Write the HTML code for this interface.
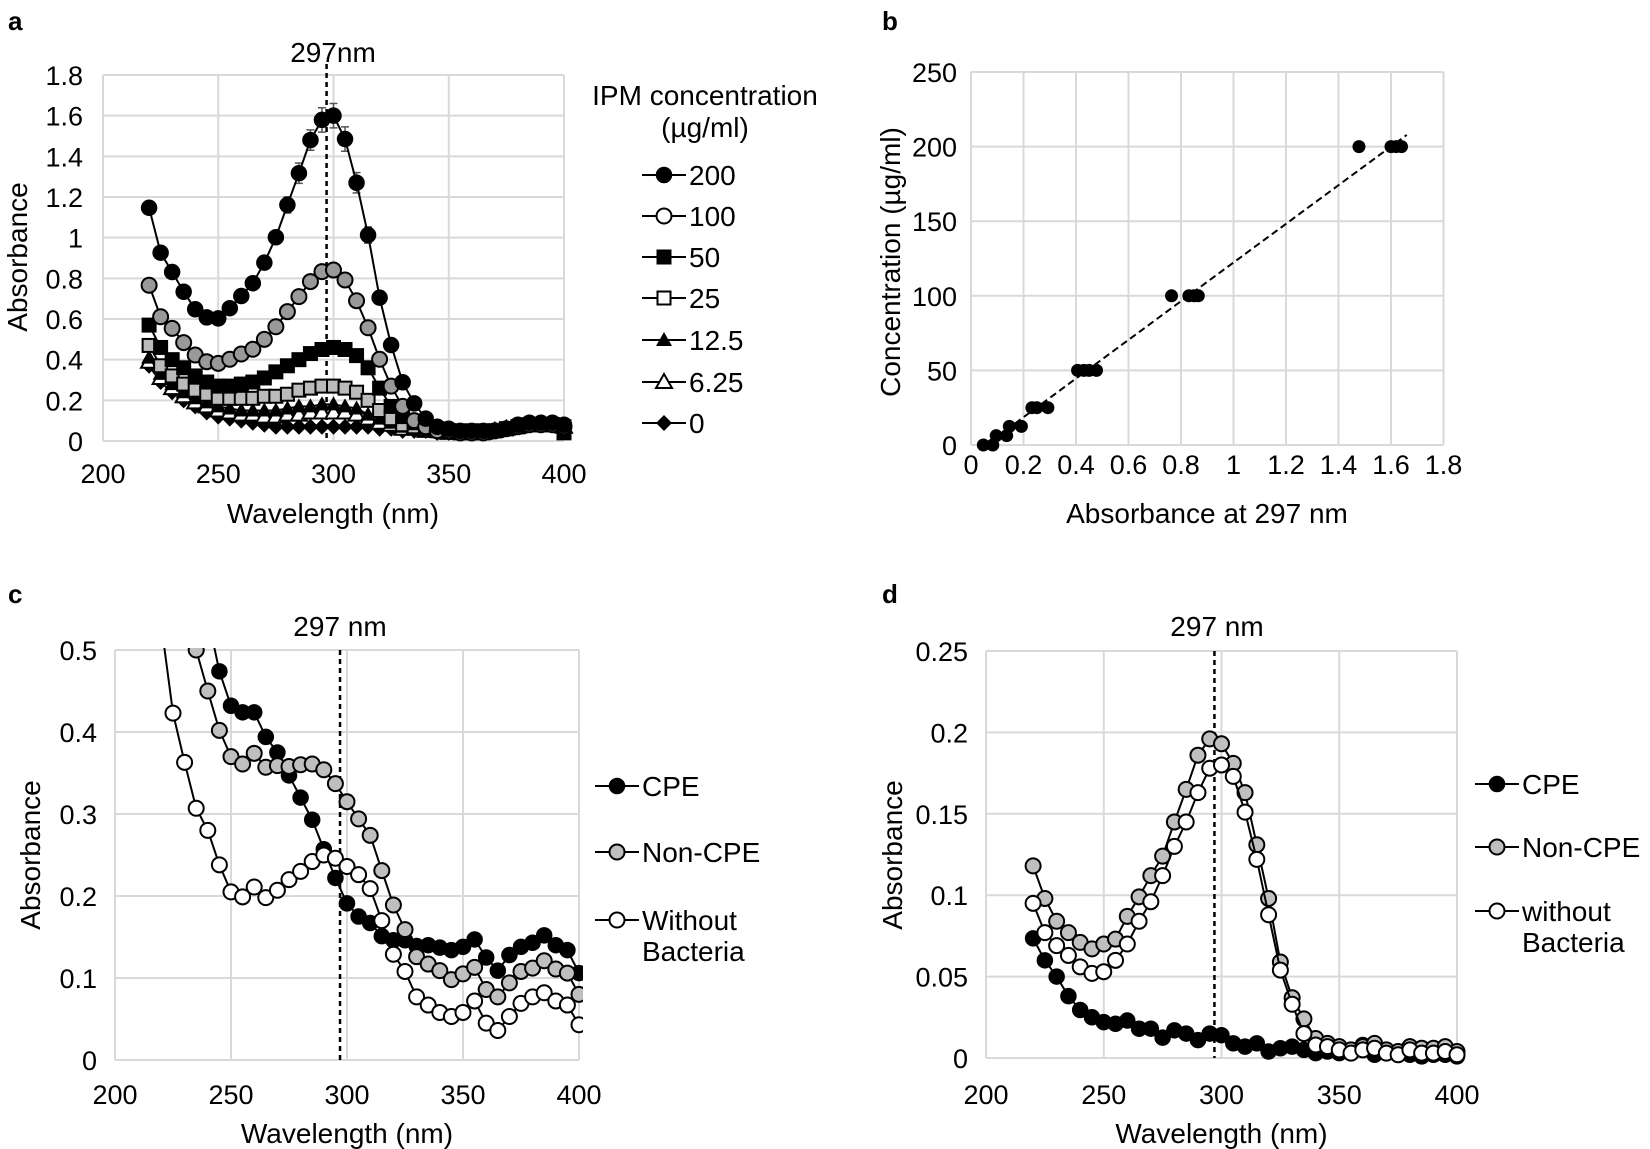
<!DOCTYPE html>
<html><head><meta charset="utf-8"><title>IPM absorbance figure</title>
<style>
html,body{margin:0;padding:0;background:#fff;}
svg{display:block;font-family:"Liberation Sans",Arial,sans-serif;}
</style></head>
<body>
<svg id="fig" width="1650" height="1149" viewBox="0 0 1650 1149" xmlns="http://www.w3.org/2000/svg">
<defs>
<clipPath id="clipC"><rect x="113" y="648" width="470" height="416"/></clipPath>
</defs>
<text x="8" y="30" font-size="26" font-weight="bold">a</text>
<text x="882" y="30" font-size="26" font-weight="bold">b</text>
<text x="8" y="603" font-size="26" font-weight="bold">c</text>
<text x="882" y="603" font-size="26" font-weight="bold">d</text>
</svg>
<script>
// ---------- DATA ----------
const wavelengths = [];
for (let w = 220; w <= 400; w += 5) wavelengths.push(w);

// Panel a: IPM concentration series
const a200 = [1.147,0.926,0.831,0.734,0.648,0.608,0.603,0.653,0.713,0.776,0.877,1.002,1.161,1.317,1.48,1.579,1.6,1.485,1.27,1.013,0.705,0.472,0.289,0.185,0.11,0.07,0.06,0.05,0.05,0.05,0.05,0.06,0.08,0.09,0.09,0.09,0.08];
const a200err = [0.03,0.02,0.02,0.02,0.02,0.02,0.02,0.02,0.02,0.02,0.03,0.03,0.04,0.05,0.05,0.06,0.06,0.06,0.05,0.04,0.03,0.02,0.02,0.01,0.01,0.01,0.01,0.01,0.01,0.01,0.01,0.01,0.01,0.01,0.01,0.01,0.01];
const a100 = [0.766,0.611,0.554,0.484,0.423,0.39,0.382,0.402,0.428,0.451,0.5,0.562,0.636,0.71,0.784,0.833,0.841,0.792,0.69,0.557,0.402,0.27,0.17,0.1,0.07,0.05,0.05,0.04,0.04,0.04,0.05,0.06,0.07,0.08,0.08,0.08,0.07];
const a50 = [0.57,0.46,0.40,0.36,0.32,0.29,0.27,0.27,0.28,0.29,0.31,0.34,0.37,0.40,0.43,0.45,0.46,0.45,0.42,0.36,0.26,0.17,0.12,0.09,0.07,0.06,0.05,0.05,0.05,0.05,0.05,0.06,0.07,0.08,0.08,0.08,0.04];
const a25 = [0.47,0.37,0.32,0.28,0.25,0.23,0.21,0.21,0.21,0.21,0.22,0.22,0.23,0.25,0.26,0.27,0.27,0.26,0.24,0.2,0.15,0.11,0.08,0.07,0.06,0.05,0.05,0.04,0.04,0.04,0.05,0.06,0.07,0.08,0.08,0.08,0.07];
const a12 = [0.41,0.33,0.28,0.24,0.21,0.19,0.17,0.16,0.15,0.15,0.15,0.15,0.16,0.17,0.17,0.18,0.18,0.17,0.16,0.13,0.11,0.09,0.07,0.06,0.05,0.05,0.04,0.04,0.04,0.04,0.05,0.06,0.07,0.08,0.08,0.08,0.07];
const a6 = [0.39,0.31,0.26,0.22,0.19,0.17,0.15,0.14,0.13,0.13,0.12,0.12,0.13,0.13,0.14,0.14,0.14,0.14,0.13,0.11,0.09,0.08,0.06,0.06,0.05,0.05,0.04,0.04,0.04,0.04,0.05,0.06,0.07,0.08,0.08,0.08,0.07];
const a0 = [0.37,0.29,0.24,0.2,0.17,0.14,0.12,0.11,0.1,0.09,0.08,0.07,0.07,0.07,0.07,0.07,0.07,0.07,0.07,0.07,0.06,0.06,0.05,0.05,0.05,0.04,0.04,0.04,0.04,0.04,0.05,0.06,0.07,0.08,0.08,0.08,0.07];
const aLabels = ["200","100","50","25","12.5","6.25","0"];

// Panel b: calibration
const bAbs = [0.047,0.083,0.096,0.136,0.146,0.192,0.232,0.251,0.293,0.406,0.43,0.45,0.478,0.764,0.83,0.85,0.866,1.478,1.60,1.62,1.64];
const bConc = [0,0,6.25,6.25,12.5,12.5,25,25,25,50,50,50,50,100,100,100,100,200,200,200,200];
const bFitSlope = 129.6;
const bFitIntercept = -7.3;
const bFitRange = [0.1, 1.66];

// Panel c
const cCPE = [1.0,0.85,0.72,0.62,0.54,0.474,0.432,0.424,0.424,0.394,0.375,0.347,0.32,0.293,0.257,0.222,0.191,0.175,0.167,0.151,0.146,0.146,0.139,0.14,0.137,0.134,0.138,0.147,0.125,0.109,0.128,0.138,0.143,0.152,0.14,0.134,0.106];
const cNonCPE = [0.8,0.68,0.56,0.5,0.45,0.402,0.37,0.361,0.374,0.357,0.359,0.358,0.36,0.361,0.354,0.337,0.315,0.294,0.274,0.231,0.189,0.159,0.126,0.117,0.109,0.098,0.105,0.113,0.086,0.077,0.094,0.108,0.112,0.121,0.111,0.106,0.08];
const cWithout = [0.53,0.423,0.363,0.307,0.28,0.238,0.205,0.199,0.211,0.198,0.207,0.22,0.23,0.242,0.25,0.246,0.236,0.226,0.209,0.17,0.129,0.108,0.077,0.067,0.058,0.053,0.058,0.072,0.045,0.036,0.053,0.069,0.077,0.082,0.072,0.067,0.043];

// Panel d
const dCPE = [0.0735,0.06,0.05,0.038,0.0295,0.025,0.022,0.021,0.023,0.018,0.018,0.0125,0.017,0.015,0.011,0.015,0.014,0.009,0.007,0.009,0.004,0.006,0.007,0.005,0.003,0.004,0.003,0.003,0.008,0.002,0.003,0.002,0.002,0.001,0.002,0.002,0.001];
const dNonCPE = [0.118,0.098,0.084,0.077,0.071,0.067,0.070,0.073,0.087,0.099,0.112,0.124,0.145,0.165,0.186,0.196,0.193,0.181,0.163,0.131,0.098,0.059,0.037,0.024,0.012,0.009,0.007,0.005,0.007,0.009,0.005,0.004,0.007,0.006,0.006,0.007,0.004];
const dWithout = [0.095,0.077,0.069,0.063,0.056,0.052,0.053,0.06,0.07,0.084,0.096,0.112,0.13,0.145,0.163,0.178,0.18,0.173,0.151,0.122,0.088,0.054,0.033,0.015,0.008,0.007,0.005,0.003,0.005,0.006,0.003,0.002,0.005,0.003,0.003,0.004,0.002];

const xTicksWl = [200,250,300,350,400];
const yTicksA = [0,0.2,0.4,0.6,0.8,1,1.2,1.4,1.6,1.8];
const xTicksB = [0,0.2,0.4,0.6,0.8,1,1.2,1.4,1.6,1.8];
const yTicksB = [0,50,100,150,200,250];
const yTicksC = [0,0.1,0.2,0.3,0.4,0.5];
const yTicksD = [0,0.05,0.1,0.15,0.2,0.25];
const peakWl = 297;

// ---------- HELPERS ----------
const NS = "http://www.w3.org/2000/svg";
const svg = document.getElementById('fig');
const TICK = 27, TITLE = 28, LEG = 28;
function el(tag, attrs, parent) {
  const e = document.createElementNS(NS, tag);
  for (const k in attrs) e.setAttribute(k, attrs[k]);
  (parent || svg).appendChild(e);
  return e;
}
function lin(d0, d1, p0, p1) { return v => p0 + (v - d0) / (d1 - d0) * (p1 - p0); }
function fmt(v) { return String(Number(v.toFixed(3))); }

function axes(g, X, Y, xt, yt, x0, x1, y0, y1, yLabGap, xLabY) {
  xt.forEach(t => {
    const l = el('line', {x1: X(t), x2: X(t), y1: y0, y2: y1, stroke: '#d9d9d9', 'stroke-width': 2}, g);
    
    
    const tx = el('text', {x: X(t), y: xLabY, 'font-size': TICK, 'text-anchor': 'middle'}, g);
    tx.textContent = fmt(t);
    
    
  });
  yt.forEach(t => {
    const l = el('line', {x1: x0, x2: x1, y1: Y(t), y2: Y(t), stroke: '#d9d9d9', 'stroke-width': 2}, g);
    
    
    const tx = el('text', {x: x0 - yLabGap, y: Y(t) + 10, 'font-size': TICK, 'text-anchor': 'end'}, g);
    tx.textContent = fmt(t);
    
    
  });
}

function marker(g, type, x, y) {
  let m;
  if (type === 'circle') m = el('circle', {cx: x, cy: y, r: 7.5, fill: '#000', stroke: '#000', 'stroke-width': 1.5}, g);
  else if (type === 'ocircle') m = el('circle', {cx: x, cy: y, r: 7.5, fill: '#999', stroke: '#000', 'stroke-width': 2}, g);
  else if (type === 'ocircleW') m = el('circle', {cx: x, cy: y, r: 7.5, fill: '#fff', stroke: '#000', 'stroke-width': 2}, g);
  else if (type === 'gcircle') m = el('circle', {cx: x, cy: y, r: 7.5, fill: '#bfbfbf', stroke: '#000', 'stroke-width': 2}, g);
  else if (type === 'square') m = el('rect', {x: x - 7.5, y: y - 7.5, width: 15, height: 15, fill: '#000'}, g);
  else if (type === 'osquare') m = el('rect', {x: x - 6.5, y: y - 6.5, width: 13, height: 13, fill: '#bbb', stroke: '#000', 'stroke-width': 2}, g);
  else if (type === 'osquareW') m = el('rect', {x: x - 6.5, y: y - 6.5, width: 13, height: 13, fill: '#fff', stroke: '#000', 'stroke-width': 2}, g);
  else if (type === 'tri') m = el('polygon', {points: `${x},${y-8} ${x+8},${y+6} ${x-8},${y+6}`, fill: '#000'}, g);
  else if (type === 'otri') m = el('polygon', {points: `${x},${y-8} ${x+8},${y+6} ${x-8},${y+6}`, fill: '#fff', stroke: '#000', 'stroke-width': 2}, g);
  else m = el('polygon', {points: `${x},${y-8} ${x+8},${y} ${x},${y+8} ${x-8},${y}`, fill: '#000'}, g);
  
  
  return m;
}

function series(g, X, Y, xs, ys, type, name) {
  const sg = el('g', {}, g);
  
  
  const pl = el('polyline', {points: xs.map((x, i) => X(x) + ',' + Y(ys[i])).join(' '), fill: 'none', stroke: '#000', 'stroke-width': 2}, sg);
  
  
  xs.forEach((x, i) => marker(sg, type, X(x), Y(ys[i])));
  return sg;
}

function legendEntry(g, x, y, type, label, name) {
  const lg = el('g', {}, g);
  
  
  el('line', {x1: x, x2: x + 44, y1: y, y2: y, stroke: '#000', 'stroke-width': 2}, lg);
  marker(lg, type, x + 22, y);
  const lines = label.split('\n');
  lines.forEach((ln, i) => {
    const t = el('text', {x: x + 47, y: y + 10 + i * 31, 'font-size': LEG}, lg);
    t.textContent = ln;
  });
}

function textAt(x, y, s, size, anchor, name, rot) {
  const t = el('text', {x: x, y: y, 'font-size': size, 'text-anchor': anchor || 'middle'});
  if (rot) t.setAttribute('transform', `rotate(-90 ${x} ${y})`);
  t.textContent = s;
  
  
  return t;
}

// ---------- PANEL A ----------
(function () {
  const g = el('g', {});
  
  
  const X = lin(200, 400, 103, 564), Y = lin(0, 1.8, 441, 75);
  axes(g, X, Y, xTicksWl, yTicksA, 103, 564, 75, 441, 20, 483);
  const vl = el('line', {x1: X(peakWl), x2: X(peakWl), y1: 64, y2: 441, stroke: '#000', 'stroke-width': 2.5, 'stroke-dasharray': '5,4'}, g);
  
  
  const sets = [[a0,'diamond','series-0'],[a6,'otri','series-6-25'],[a12,'tri','series-12-5'],[a25,'osquare','series-25'],[a50,'square','series-50'],[a100,'ocircle','series-100']];
  sets.forEach(s => series(g, X, Y, wavelengths, s[0], s[1], s[2]));
  const eg = el('g', {}, g);
  
  
  wavelengths.forEach((w, i) => {
    const x = X(w), yt = Y(a200[i] + a200err[i]), yb = Y(a200[i] - a200err[i]);
    el('line', {x1: x, x2: x, y1: yt, y2: yb, stroke: '#555', 'stroke-width': 1.5}, eg);
    el('line', {x1: x - 4, x2: x + 4, y1: yt, y2: yt, stroke: '#555', 'stroke-width': 1.5}, eg);
    el('line', {x1: x - 4, x2: x + 4, y1: yb, y2: yb, stroke: '#555', 'stroke-width': 1.5}, eg);
  });
  series(g, X, Y, wavelengths, a200, 'circle', 'series-200');
  textAt(333, 62, '297nm', TITLE, 'middle', 'peak-label-a');
  textAt(27, 257, 'Absorbance', TITLE, 'middle', 'y-axis-title-a', true);
  textAt(333, 523, 'Wavelength  (nm)', TITLE, 'middle', 'x-axis-title-a');
  textAt(705, 105, 'IPM concentration', LEG, 'middle', 'legend-title');
  textAt(705, 137, '(µg/ml)', LEG, 'middle', 'legend-title-unit');
  const lgd = el('g', {});
  
  
  const types = ['circle','ocircleW','square','osquareW','tri','otri','diamond'];
  const ly = [175,216,257,298,340,382,423];
  aLabels.forEach((lab, i) => legendEntry(lgd, 642, ly[i], types[i], lab, 'legend-entry-' + lab.replace('.', '-')));
})();

// ---------- PANEL B ----------
(function () {
  const g = el('g', {});
  
  
  const X = lin(0, 1.8, 971, 1443.5), Y = lin(0, 250, 445, 72);
  axes(g, X, Y, xTicksB, yTicksB, 971, 1443.5, 72, 445, 14, 474);
  const fl = el('line', {x1: X(bFitRange[0]), y1: Y(bFitSlope * bFitRange[0] + bFitIntercept), x2: X(bFitRange[1]), y2: Y(bFitSlope * bFitRange[1] + bFitIntercept), stroke: '#000', 'stroke-width': 2, 'stroke-dasharray': '7,4'}, g);
  
  
  bAbs.forEach((a, i) => {
    const c = el('circle', {cx: X(a), cy: Y(bConc[i]), r: 6.5, fill: '#000'}, g);
    
    
  });
  textAt(900, 262, 'Concentration (µg/ml)', TITLE, 'middle', 'y-axis-title-b', true);
  textAt(1207, 523, 'Absorbance at 297 nm', TITLE, 'middle', 'x-axis-title-b');
})();

// ---------- PANEL C / D ----------
function spectrumPanel(id, X, Y, yt, x0, x1, y0, y1, gap, arrs, legX, legY, lastLabel, titleX, peakX) {
  const g = el('g', {});
  
  
  axes(g, X, Y, xTicksWl, yt, x0, x1, y1, y0, gap, 1104);
  const vl = el('line', {x1: X(peakWl), x2: X(peakWl), y1: y1, y2: y0, stroke: '#000', 'stroke-width': 2.5, 'stroke-dasharray': '5,4'}, g);
  
  
  const dg = el('g', id === 'c' ? {'clip-path': 'url(#clipC)'} : {}, g);
  series(dg, X, Y, wavelengths, arrs[0], 'circle', 'series-cpe');
  series(dg, X, Y, wavelengths, arrs[1], 'gcircle', 'series-non-cpe');
  series(dg, X, Y, wavelengths, arrs[2], 'ocircleW', 'series-without-bacteria');
  textAt(peakX, 636, '297 nm', TITLE, 'middle', 'peak-label-' + id);
  textAt(titleX, 855, 'Absorbance', TITLE, 'middle', 'y-axis-title-' + id, true);
  textAt((x0 + x1) / 2, 1143, 'Wavelength  (nm)', TITLE, 'middle', 'x-axis-title-' + id);
  const lgd = el('g', {});
  
  
  legendEntry(lgd, legX, legY[0], 'circle', 'CPE', 'legend-entry-cpe');
  legendEntry(lgd, legX, legY[1], 'gcircle', 'Non-CPE', 'legend-entry-non-cpe');
  legendEntry(lgd, legX, legY[2], 'ocircleW', lastLabel, 'legend-entry-without-bacteria');
}
spectrumPanel('c', lin(200, 400, 115, 579), lin(0, 0.5, 1060, 650), yTicksC, 115, 579, 1060, 650, 18,
  [cCPE, cNonCPE, cWithout], 595, [786, 852, 920], 'Without\nBacteria', 40, 340);
spectrumPanel('d', lin(200, 400, 986, 1457), lin(0, 0.25, 1058, 651), yTicksD, 986, 1457, 1058, 651, 18,
  [dCPE, dNonCPE, dWithout], 1475, [784, 847, 911], 'without\nBacteria', 902, 1217);
</script>
</body></html>
